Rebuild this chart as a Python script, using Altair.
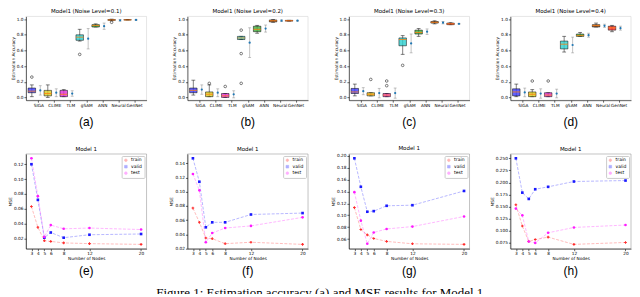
import altair as alt
import pandas as pd

# ---------------- data: estimation accuracy box plots (a)-(d) ----------------
methods = ["SIGA", "CLIME", "TLM", "gSAM", "ANN", "Neural", "GenNet"]
box_colors = ["#3a3aff", "#d9cc1f", "#e02ad6", "#2ccfcf", "#3fae3a", "#8b4a1c", "#ff2a2a"]
acc_titles = ["Model1 (Noise Level=0.1)", "Model1 (Noise Level=0.2)",
              "Model1 (Noise Level=0.3)", "Model1 (Noise Level=0.4)"]
acc_panel_labels = ["(a)", "(b)", "(c)", "(d)"]
acc_ticks = [0.0, 0.2, 0.4, 0.6, 0.8, 1.0]

box_q1 = [
    [0.06, 0.02, 0.01, 0.73, 0.90, 0.985, 0.99],
    [0.06, 0.01, 0.00, 0.74, 0.84, 0.965, 0.975],
    [0.05, 0.02, 0.01, 0.66, 0.81, 0.95, 0.93],
    [0.02, 0.01, 0.01, 0.62, 0.78, 0.90, 0.86],
]
box_med = [
    [0.08, 0.05, 0.04, 0.77, 0.92, 0.99, 0.99],
    [0.09, 0.04, 0.02, 0.76, 0.87, 0.98, 0.98],
    [0.07, 0.04, 0.03, 0.74, 0.83, 0.96, 0.94],
    [0.07, 0.04, 0.03, 0.68, 0.79, 0.92, 0.89],
]
box_q3 = [
    [0.12, 0.09, 0.09, 0.80, 0.93, 0.995, 0.993],
    [0.12, 0.07, 0.05, 0.78, 0.91, 0.99, 0.985],
    [0.115, 0.06, 0.05, 0.76, 0.86, 0.97, 0.95],
    [0.11, 0.07, 0.06, 0.72, 0.81, 0.93, 0.91],
]
whisk_lo = [
    [0.01, 0.00, 0.01, 0.72, 0.90, 0.98, 0.99],
    [0.03, 0.01, 0.00, 0.74, 0.82, 0.96, 0.975],
    [0.02, 0.02, 0.01, 0.55, 0.78, 0.94, 0.93],
    [0.01, 0.01, 0.01, 0.58, 0.78, 0.90, 0.84],
]
whisk_hi = [
    [0.16, 0.16, 0.10, 0.87, 0.94, 1.0, 0.995],
    [0.22, 0.16, 0.05, 0.78, 0.92, 0.995, 0.985],
    [0.17, 0.06, 0.05, 0.79, 0.88, 0.98, 0.955],
    [0.17, 0.10, 0.06, 0.78, 0.83, 0.95, 0.92],
]
mean_acc = [
    [0.09, 0.06, 0.05, 0.75, 0.91, 0.985, 0.99],
    [0.10, 0.06, 0.04, 0.70, 0.88, 0.98, 0.98],
    [0.08, 0.055, 0.055, 0.69, 0.84, 0.955, 0.94],
    [0.064, 0.05, 0.05, 0.67, 0.795, 0.915, 0.885],
]
sd_acc = [
    [0.06, 0.05, 0.035, 0.13, 0.04, 0.01, 0.005],
    [0.06, 0.05, 0.045, 0.19, 0.045, 0.01, 0.005],
    [0.045, 0.06, 0.065, 0.12, 0.035, 0.015, 0.005],
    [0.055, 0.06, 0.055, 0.10, 0.025, 0.02, 0.025],
]
outlier_method = [[0, 3, 5], [1, 2, 3, 3, 3], [1, 2, 2, 3], [1, 2]]
outlier_value = [[0.26, 0.55, 0.96], [0.18, 0.14, 0.86, 0.56, 0.18],
                 [0.23, 0.21, 0.15, 0.41], [0.21, 0.21]]

# ---------------- data: MSE line charts (e)-(h) ----------------
nodes = [3, 4, 5, 6, 8, 12, 20]
series = ["train", "valid", "test"]
series_colors = ["#ff2a2a", "#1a1aff", "#ff1aff"]
series_shapes = ["cross", "square", "circle"]
mse_train = [
    [0.063, 0.035, 0.017, 0.016, 0.014, 0.013, 0.012],
    [0.077, 0.057, 0.035, 0.034, 0.027, 0.029, 0.026],
    [0.113, 0.076, 0.067, 0.061, 0.056, 0.052, 0.051],
    [0.154, 0.110, 0.078, 0.082, 0.087, 0.072, 0.076],
]
mse_valid = [
    [0.120, 0.072, 0.021, 0.028, 0.021, 0.025, 0.026],
    [0.147, 0.114, 0.050, 0.057, 0.057, 0.068, 0.070],
    [0.196, 0.148, 0.106, 0.107, 0.116, 0.117, 0.141],
    [0.250, 0.179, 0.166, 0.186, 0.191, 0.202, 0.204],
]
mse_test = [
    [0.128, 0.077, 0.022, 0.038, 0.033, 0.034, 0.032],
    [0.125, 0.102, 0.029, 0.042, 0.049, 0.052, 0.064],
    [0.139, 0.091, 0.052, 0.071, 0.077, 0.081, 0.098],
    [0.146, 0.132, 0.078, 0.075, 0.096, 0.107, 0.112],
]
mse_ticks = [
    [0.02, 0.04, 0.06, 0.08, 0.10, 0.12],
    [0.02, 0.04, 0.06, 0.08, 0.10, 0.12, 0.14],
    [0.06, 0.08, 0.10, 0.12, 0.14, 0.16, 0.18, 0.20],
    [0.075, 0.100, 0.125, 0.150, 0.175, 0.200, 0.225, 0.250],
]
mse_formats = [".2f", ".2f", ".2f", ".3f"]
mse_panel_labels = ["(e)", "(f)", "(g)", "(h)"]
caption = "Figure 1: Estimation accuracy (a) and MSE results for Model 1"

W = 121
H_TOP = 84
H_BOT = 95
FONT = "DejaVu Sans"
AX = dict(labelFontSize=4.3, titleFontSize=4.3, tickSize=2, labelPadding=1,
          titlePadding=1, domainColor="black", tickColor="black",
          domainWidth=0.6, tickWidth=0.6, grid=False)


def acc_chart(k):
    df = pd.DataFrame({"m": list(range(7)), "q1": box_q1[k], "med": box_med[k],
                       "q3": box_q3[k], "wlo": whisk_lo[k], "whi": whisk_hi[k],
                       "mean": mean_acc[k], "sd": sd_acc[k], "col": box_colors})
    out = pd.DataFrame({"m": outlier_method[k], "v": outlier_value[k]})
    xs = alt.Scale(domain=[-0.78, 6.78], nice=False, zero=False)
    ys = alt.Scale(domain=[-0.035, 1.035], nice=False, zero=False)
    xax = alt.Axis(values=list(range(7)), labelExpr=f"{methods!r}[datum.value]",
                   labelAngle=0, labelOverlap=False, **AX)
    yax = alt.Axis(values=acc_ticks, format=".1f", **AX)

    def X(f):
        return alt.X(f, type="quantitative", scale=xs, axis=xax, title=None)

    def Y(f):
        return alt.Y(f, type="quantitative", scale=ys, axis=yax, title="Estimation Accuracy")

    base = alt.Chart(df).transform_calculate(
        bx0="datum.m-0.645", bx1="datum.m-0.175", bc="datum.m-0.41",
        c0="datum.m-0.53", c1="datum.m-0.29", ex="datum.m+0.12",
        e0="datum.m+0.03", e1="datum.m+0.21",
        elo="datum.mean-datum.sd", ehi="datum.mean+datum.sd")
    whisk = base.mark_rule(color="black", strokeWidth=0.5).encode(x=X("bc"), y=Y("wlo"), y2=alt.Y2("whi"))
    cap_lo = base.mark_rule(color="black", strokeWidth=0.5).encode(x=X("c0"), x2=alt.X2("c1"), y=Y("wlo"))
    cap_hi = base.mark_rule(color="black", strokeWidth=0.5).encode(x=X("c0"), x2=alt.X2("c1"), y=Y("whi"))
    box = base.mark_rect(stroke="black", strokeWidth=0.5, fillOpacity=0.8).encode(
        x=X("bx0"), x2=alt.X2("bx1"), y=Y("q1"), y2=alt.Y2("q3"), fill=alt.Fill("col:N", scale=None))
    med = base.mark_rule(color="#ff7f0e", strokeWidth=0.8).encode(x=X("bx0"), x2=alt.X2("bx1"), y=Y("med"))
    outl = alt.Chart(out).transform_calculate(bc="datum.m-0.41").mark_point(
        shape="circle", filled=False, color="black", size=7, strokeWidth=0.5, opacity=1
    ).encode(x=X("bc"), y=Y("v"))
    err = base.mark_rule(color="#888888", strokeWidth=0.5).encode(x=X("ex"), y=Y("elo"), y2=alt.Y2("ehi"))
    ecap_lo = base.mark_rule(color="#888888", strokeWidth=0.5).encode(x=X("e0"), x2=alt.X2("e1"), y=Y("elo"))
    ecap_hi = base.mark_rule(color="#888888", strokeWidth=0.5).encode(x=X("e0"), x2=alt.X2("e1"), y=Y("ehi"))
    dot = base.mark_point(filled=True, color="#1f77b4", size=5, opacity=1).encode(x=X("ex"), y=Y("mean"))
    lab = alt.Chart(pd.DataFrame({"lab": [acc_panel_labels[k]]})).mark_text(
        font="Liberation Sans", fontSize=12, baseline="middle"
    ).encode(text="lab:N", x=alt.value(W / 2), y=alt.value(H_TOP + 22))
    return alt.layer(whisk, cap_lo, cap_hi, box, med, outl, err, ecap_lo, ecap_hi, dot, lab).properties(
        width=W, height=H_TOP, title=acc_titles[k],
        view=alt.ViewBackground(stroke="#cccccc", strokeWidth=0.5))


def mse_chart(k):
    vals = mse_train[k] + mse_valid[k] + mse_test[k]
    df = pd.DataFrame({"nodes": nodes * 3,
                       "series": [s for s in series for _ in nodes],
                       "mse": vals})
    lo, hi = min(vals), max(vals)
    ys = alt.Scale(domain=[lo - 0.05 * (hi - lo), hi + 0.05 * (hi - lo)], nice=False, zero=False)
    xs = alt.Scale(domain=[2.15, 20.85], nice=False, zero=False)
    x = alt.X("nodes:Q", scale=xs, axis=alt.Axis(values=nodes, format="d", labelAngle=0,
                                                  labelOverlap=False, **AX),
              title="Number of Nodes")
    y = alt.Y("mse:Q", scale=ys, axis=alt.Axis(values=mse_ticks[k], format=mse_formats[k], **AX),
              title="MSE")
    leg = alt.Legend(title=None, orient="top-right", offset=2, fillColor="white",
                     strokeColor="#cccccc", padding=2, labelFontSize=4.5, labelFont=FONT,
                     symbolSize=7, rowPadding=0.5, labelOffset=3, cornerRadius=1,
                     symbolStrokeWidth=0.6)
    color = alt.Color("series:N", scale=alt.Scale(domain=series, range=series_colors), legend=leg)
    shape = alt.Shape("series:N", scale=alt.Scale(domain=series, range=series_shapes), legend=leg)
    base = alt.Chart(df)
    line = base.mark_line(strokeDash=[3, 1.5], strokeWidth=0.9, opacity=0.35).encode(
        x=x, y=y, color=color)
    pts = base.mark_point(filled=True, size=7, opacity=1).encode(x=x, y=y, color=color, shape=shape)
    lab = alt.Chart(pd.DataFrame({"lab": [mse_panel_labels[k]]})).mark_text(
        font="Liberation Sans", fontSize=12, baseline="middle"
    ).encode(text="lab:N", x=alt.value(W / 2), y=alt.value(H_BOT + 22))
    return alt.layer(line, pts, lab).properties(
        width=W, height=H_BOT, title="Model 1",
        view=alt.ViewBackground(stroke="#888888", strokeWidth=0.5))


panels = [acc_chart(k) for k in range(4)] + [mse_chart(k) for k in range(4)]

chart = alt.concat(*panels, columns=4, spacing={"row": 54, "column": 41}, bounds="flush").resolve_scale(
    color="independent", shape="independent"
).properties(
    title=alt.TitleParams(caption, orient="bottom", font="Liberation Serif", fontSize=13,
                          fontWeight="normal", offset=10, anchor="middle"),
    padding={"left": 0, "top": 0, "right": 0, "bottom": -7},
).configure_title(font=FONT, fontSize=5.5, fontWeight="normal", offset=2).configure_axis(
    labelFont=FONT, titleFont=FONT, titleFontWeight="normal")

chart.save("out.html", embed_options={"renderer": "svg", "actions": False})
